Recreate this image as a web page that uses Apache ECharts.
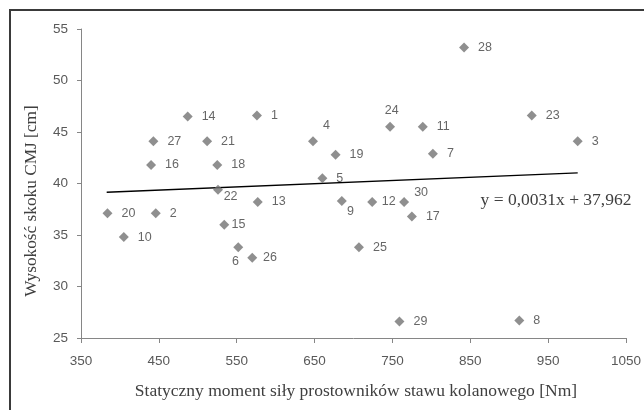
<!DOCTYPE html>
<html>
<head>
<meta charset="utf-8">
<script src="https://cdn.jsdelivr.net/npm/echarts@6/dist/echarts.min.js"></script>
<style>
html,body{margin:0;padding:0;background:#fff;}
#c{width:644px;height:410px;}
</style>
</head>
<body>
<div id="c"></div>
<script>
// Data
var pointIds = [1,2,3,4,5,6,7,8,9,10,11,12,13,14,15,16,17,18,19,20,21,22,23,24,25,26,27,28,29,30];
var momentNm = [576,446,988,648,660,552,802,913,685,405,789,724,577,487,534,440,775,525,677,384,512,526,929,747,707,570,443,842,759,765];
var jumpCm = [46.6,37.1,44.1,44.1,40.5,33.8,42.9,26.7,38.3,34.8,45.5,38.2,38.2,46.5,36.0,41.8,36.8,41.8,42.8,37.1,44.1,39.4,46.6,45.5,33.8,32.8,44.1,53.2,26.6,38.2];
var trendX = [383, 988];
var trendY = [39.15, 41.03];
var equationText = 'y = 0,0031x + 37,962';
var xTitle = 'Statyczny moment siły prostowników stawu kolanowego [Nm]';
var yTitle = 'Wysokość skoku CMJ [cm]';

// label placement tweaks (style only)
var labelOffsets = {
  4: [13.4, -15.3], 24: [1.7, -16.3], 30: [17, -9.7], 9: [8.6, 10.7],
  22: [12.6, 6.7], 6: [-2.7, 14.6], 12: [16.5, 0], 15: [14.3, 0], 26: [17.7, 0]
};

var scatterData = pointIds.map(function(id, i){
  var item = {value: [momentNm[i], jumpCm[i]], name: String(id)};
  if (labelOffsets[id]) {
    item.label = {position: 'inside', offset: labelOffsets[id], distance: 0};
  }
  return item;
});

var chart = echarts.init(document.getElementById('c'), null, {renderer: 'canvas'});
var axisColor = '#868686';
var tickFont = {color: '#595959', fontSize: 13.5, fontFamily: 'Liberation Sans'};
chart.setOption({
  backgroundColor: '#ffffff',
  animation: false,
  grid: {left: 81, top: 29, width: 550, height: 309, containLabel: false},
  xAxis: {
    type: 'value', min: 350, max: 1050, interval: 100,
    axisLine: {show: true, lineStyle: {color: axisColor, width: 1}},
    axisTick: {show: true, length: 5, lineStyle: {color: axisColor}},
    axisLabel: Object.assign({margin: 16, formatter: function(v){ return String(v); }}, tickFont),
    splitLine: {show: false}
  },
  yAxis: {
    type: 'value', min: 25, max: 55, interval: 5,
    axisLine: {show: true, lineStyle: {color: axisColor, width: 1}},
    axisTick: {show: true, length: 4, lineStyle: {color: axisColor}},
    axisLabel: Object.assign({margin: 13, formatter: function(v){ return String(v); }}, tickFont),
    splitLine: {show: false}
  },
  graphic: [
    {type: 'rect', shape: {x: 10, y: 10, width: 700, height: 500}, style: {fill: 'none', stroke: '#3a3a3a', lineWidth: 2}, silent: true, z: 100},
    {type: 'text', x: 356, y: 391, style: {text: xTitle, font: '17.5px "Liberation Serif"', fill: '#404040', textAlign: 'center', textVerticalAlign: 'middle'}},
    {type: 'text', x: 31, y: 201, rotation: Math.PI / 2, style: {text: yTitle, font: '17.3px "Liberation Serif"', fill: '#404040', textAlign: 'center', textVerticalAlign: 'middle'}},
    {type: 'text', x: 556, y: 200, style: {text: equationText, font: '17.5px "Liberation Serif"', fill: '#404040', textAlign: 'center', textVerticalAlign: 'middle'}}
  ],
  series: [
    {
      type: 'line',
      data: trendX.map(function(x, i){ return [x, trendY[i]]; }),
      symbol: 'none',
      lineStyle: {color: '#000000', width: 1.3},
      silent: true, z: 1
    },
    {
      type: 'scatter',
      symbol: 'diamond',
      symbolSize: 10,
      itemStyle: {color: '#737373'},
      data: scatterData,
      label: {
        show: true, position: 'right', distance: 9,
        formatter: function(p){ return p.name; },
        color: '#404040', fontSize: 12.5, fontFamily: 'Liberation Sans'
      },
      z: 2
    }
  ]
});
</script>
</body>
</html>
